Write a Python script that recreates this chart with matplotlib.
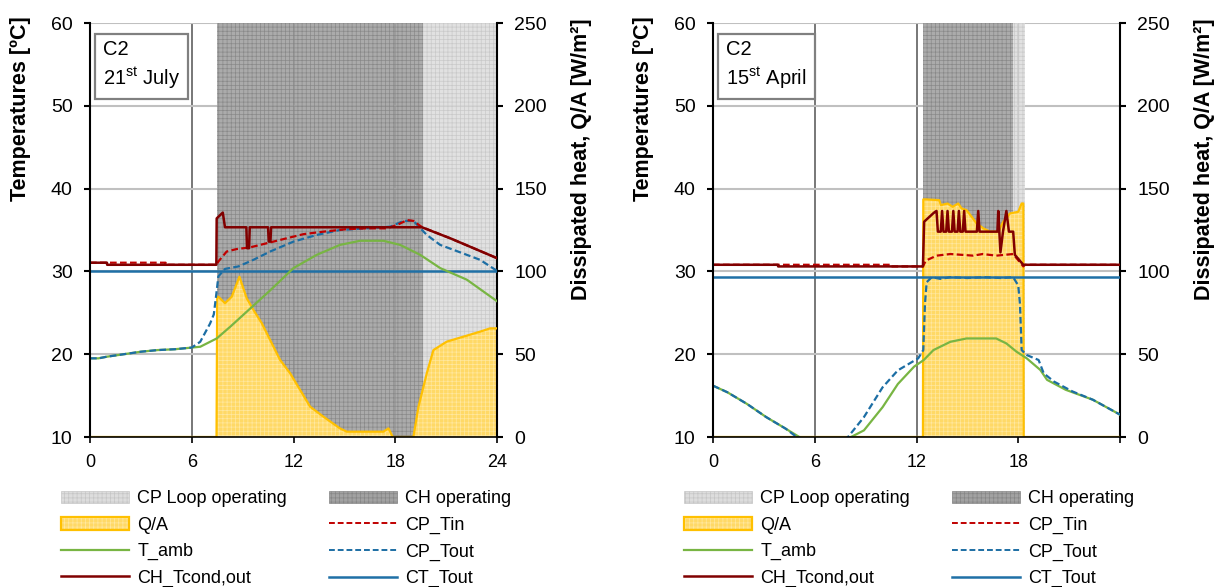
import matplotlib
matplotlib.use('Agg')
import matplotlib.pyplot as plt
from matplotlib.patches import Patch
from matplotlib.lines import Line2D

plt.rcParams['font.family'] = ['Liberation Sans', 'DejaVu Sans']
plt.rcParams['mathtext.fontset'] = 'custom'
plt.rcParams['mathtext.rm'] = 'Liberation Sans'
plt.rcParams['hatch.linewidth'] = 0.5

# ---------------- data: 21st July (left) ----------------
ch_spans_jul = [(7.47, 19.62)]
cp_spans_jul = [(19.62, 24.0)]

qa_h_jul = [0, 7.46, 7.5, 7.57, 7.96, 8.36, 8.81, 9.24, 9.64, 10.13, 10.62, 11.21, 11.8, 12.39,
            12.98, 13.76, 14.74, 15.14, 17.3, 17.6, 17.85, 19.07, 19.37, 19.86, 20.25, 21.04,
            22.02, 23.0, 23.59, 24.0]
qa_jul = [0, 0, 84.7, 84.7, 80.8, 84.7, 96.8, 83.8, 76.7, 68.7, 58.6, 46.5, 38.5, 28.4,
          18.3, 12.3, 5.2, 3.2, 3.2, 5.2, 0, 0, 18.3, 38.5, 52.5, 57.6,
          60.6, 63.6, 65.6, 65.6]

tamb_h_jul = [0, 0.5, 1, 2, 3, 4, 5, 6, 6.5, 7.47, 8.26, 9.44, 10.62, 12.0, 13.37, 14.74,
              15.93, 17.3, 18.29, 19.47, 20.65, 22.22, 24.0]
tamb_jul = [19.5, 19.5, 19.7, 20.0, 20.3, 20.5, 20.6, 20.8, 20.9, 21.9, 23.3, 25.5, 27.7, 30.4,
            32.0, 33.2, 33.7, 33.7, 33.2, 32.0, 30.4, 29.0, 26.4]

cptout_h_jul = [0, 0.5, 1, 2, 3, 4, 5, 6, 6.5, 7.08, 7.3, 7.43, 7.57, 7.96, 8.75, 9.64, 10.62,
                12.0, 13.37, 14.74, 16.32, 17.7, 18.49, 19.07, 19.86, 20.65, 21.83, 23.0, 23.9, 24.0]
cptout_jul = [19.5, 19.5, 19.7, 20.0, 20.3, 20.5, 20.6, 20.8, 21.5, 23.7, 24.8, 26.95, 29.4, 30.3,
              30.6, 31.4, 32.4, 33.6, 34.4, 35.0, 35.2, 35.4, 36.1, 36.1, 34.4, 33.2, 32.3, 31.4,
              30.2, 30.0]

cptin_h_jul = [0, 4.46, 4.47, 7.45, 7.57, 8.06, 8.65, 9.44, 10.62, 11.6, 12.59, 13.76, 15.14,
               16.32, 17.5, 18.1, 18.7, 19.07, 19.47, 19.6, 21.24, 24.0]
cptin_jul = [31.05, 31.05, 30.8, 30.8, 31.2, 32.4, 32.7, 32.9, 33.5, 34.0, 34.5, 34.8, 35.1,
             35.2, 35.2, 35.6, 36.2, 36.1, 35.5, 35.33, 34.0, 31.6]

chtc_h_jul = [0, 1.0, 1.01, 7.45, 7.47, 7.83, 7.96, 9.22, 9.26, 9.38, 9.42, 10.5, 10.54, 10.64,
              10.68, 19.57, 21.24, 24.0]
chtc_jul = [31.05, 31.05, 30.8, 30.8, 36.4, 37.1, 35.33, 35.33, 32.8, 32.8, 35.33, 35.33, 33.6,
            33.6, 35.33, 35.33, 34.0, 31.6]

ct_h_jul = [0, 24]
ct_jul = [30.0, 30.0]

# ---------------- data: 15st April (right) ----------------
ch_spans_apr = [(12.4, 17.7)]
cp_spans_apr = [(17.7, 18.4)]

qa_h_apr = [0, 12.38, 12.4, 12.55, 13.34, 13.44, 13.83, 14.13, 14.46, 14.66, 14.95, 15.25, 15.54,
            15.94, 16.33, 16.82, 17.12, 17.51, 18.0, 18.2, 18.3, 18.32, 24]
qa_apr = [0, 0, 143.5, 143.5, 143, 140, 141, 139, 141, 138, 137, 133, 129,
          126, 124, 124, 130, 135, 136, 141, 141, 0, 0]

tamb_h_apr = [0, 0.85, 2.0, 3.14, 4.29, 5.09, 6.0, 7.0, 8.14, 8.9, 10.0, 10.9, 11.86, 12.43, 13.0,
              14.0, 14.95, 15.5, 16.7, 17.3, 17.9, 18.5, 19.3, 19.7, 20.8, 22.4, 24.0]
tamb_apr = [16.2, 15.4, 14.0, 12.4, 11.0, 10.0, 8.8, 8.8, 10.0, 10.8, 13.6, 16.4, 18.5, 19.3, 20.5,
            21.5, 21.9, 21.9, 21.9, 21.3, 20.3, 19.5, 18.1, 16.9, 15.7, 14.5, 12.7]

cptout_h_apr = [0, 0.85, 2.0, 3.14, 4.29, 4.93, 6.0, 7.0, 7.96, 8.9, 10.0, 10.9, 12.1, 12.4, 12.5,
                12.6, 12.9, 13.4, 14.0, 15.0, 16.0, 17.0, 17.7, 18.0, 18.1, 18.2, 18.5, 19.2, 19.5,
                20.1, 21.2, 22.4, 24.0]
cptout_apr = [16.2, 15.4, 14.0, 12.4, 11.0, 10.0, 8.8, 8.8, 10.0, 12.4, 16.0, 18.05, 19.5, 20.5,
              26.1, 28.7, 29.3, 29.1, 29.3, 29.2, 29.3, 29.2, 29.3, 28.3, 26.1, 20.5, 19.9, 19.3,
              17.7, 16.7, 15.5, 14.5, 12.7]

cptin_h_apr = [0, 10.5, 10.51, 12.38, 12.55, 13.18, 14.0, 15.35, 15.9, 16.7, 17.7, 18.1, 18.3,
               18.4, 24.0]
cptin_apr = [30.8, 30.8, 30.6, 30.6, 31.3, 31.9, 32.1, 31.9, 32.1, 31.9, 32.1, 31.1, 30.6,
             30.8, 30.8]

chtc_h_apr = [0, 3.83, 3.84, 12.38, 12.45, 12.98, 13.1, 13.18, 13.26, 13.43, 13.51, 13.59, 13.75,
              13.83, 13.91, 14.09, 14.17, 14.25, 14.42, 14.5, 14.58, 14.73, 14.81, 14.89, 15.56,
              15.64, 15.72, 16.77, 16.82, 16.95, 17.1, 17.3, 17.45, 17.7, 17.8, 18.3, 24.0]
chtc_apr = [30.8, 30.8, 30.6, 30.6, 36.0, 37.0, 37.2, 37.3, 34.8, 34.8, 37.3, 34.8, 34.8,
            37.3, 34.8, 34.8, 37.3, 34.8, 34.8, 37.3, 34.8, 34.8, 37.3, 34.8, 34.8,
            37.3, 34.8, 34.8, 37.3, 32.3, 34.8, 37.3, 34.8, 34.8, 32.0, 30.8, 30.8]

ct_h_apr = [0, 24]
ct_apr = [29.3, 29.3]

# ---------------- styles ----------------
light_face, light_hatch = '#dddddd', '#c6c6c6'
dark_face, dark_hatch = '#a2a2a2', '#868686'
yel_face, yel_hatch, yel_edge = '#ffd966', '#ffe8a0', '#ffc000'
c_tin, c_tamb, c_tout, c_chtc, c_ct = '#c00000', '#78b543', '#1c6ea4', '#800000', '#1f70a6'
dash = (3, 1.5)

fig = plt.figure(figsize=(12.21, 5.87), dpi=100)


def draw_panel(rect, box_text, ch_spans, cp_spans, qa_h, qa, series, xlabels):
    ax1 = fig.add_axes(rect)
    ax2 = ax1.twinx()
    ax1.set_zorder(2)
    ax2.set_zorder(1)
    ax1.patch.set_visible(False)

    # background grid on the rear axes
    ax2.xaxis.set_visible(True)
    ax2.set_axisbelow(True)
    ax2.grid(axis='y', color='#c0c0c0', lw=1.5)
    ax2.grid(axis='x', color='#606060', lw=1.2)
    ax2.tick_params(axis='x', bottom=False, top=False, labelbottom=False)

    for a, b in cp_spans:
        ax2.axvspan(a, b, facecolor=light_face, edgecolor=light_hatch, hatch='++++',
                    lw=0, alpha=0.88, zorder=1)
    for a, b in ch_spans:
        ax2.axvspan(a, b, facecolor=dark_face, edgecolor=dark_hatch, hatch='++++',
                    lw=0, alpha=0.9, zorder=1)
    ax2.fill_between(qa_h, 0, qa, facecolor=yel_face, edgecolor=yel_hatch, hatch='++++',
                     lw=0, zorder=2)
    ax2.plot(qa_h, qa, color=yel_edge, lw=1.6, zorder=3)

    for h, v, col, ls, lw in series:
        if ls == 'dash':
            ax1.plot(h, v, color=col, lw=lw, dashes=dash)
        else:
            ax1.plot(h, v, color=col, lw=lw)

    ax1.set_xlim(0, 24)
    ax1.set_ylim(10, 60)
    ax2.set_ylim(0, 250)
    ax1.set_xticks([0, 6, 12, 18, 24])
    ax1.set_xticklabels(xlabels)
    ax1.set_yticks(range(10, 61, 10))
    ax2.set_yticks(range(0, 251, 50))

    for s in ['top', 'right']:
        ax1.spines[s].set_visible(False)
    for s in ['top', 'left', 'bottom']:
        ax2.spines[s].set_visible(False)
    ax1.spines['left'].set_linewidth(1.5)
    ax1.spines['bottom'].set_linewidth(1.2)
    ax2.spines['right'].set_linewidth(1.5)

    ax1.tick_params(axis='y', direction='out', length=4.5, width=1.5, labelsize=14, pad=8)
    ax1.tick_params(axis='x', direction='out', length=4, width=1.2, labelsize=13, pad=8)
    ax2.tick_params(axis='y', direction='out', length=4.5, width=1.5, labelsize=14, pad=8)

    ax1.set_ylabel('Temperatures [ºC]', fontsize=15.5, fontweight='bold')
    ax1.yaxis.set_label_coords(-0.145, 0.7935)
    ax2.set_ylabel('Dissipated heat, Q/A [W/m²]', fontsize=15.5, fontweight='bold')
    ax2.yaxis.set_label_coords(1.181, 0.6715)

    ax1.text(0.032, 0.958, box_text, transform=ax1.transAxes, fontsize=14.5, ha='left', va='top',
             linespacing=1.3, zorder=10,
             bbox=dict(boxstyle='square,pad=0.4', facecolor='white', edgecolor='#808080', lw=1.6))

    handles = [
        Patch(facecolor=light_face, edgecolor=light_hatch, hatch='++++', lw=0.5),
        (Patch(facecolor=yel_face, edgecolor=yel_hatch, hatch='++++', lw=0),
         Patch(facecolor='none', edgecolor=yel_edge, lw=1.6)),
        Line2D([], [], color=c_tamb, lw=1.6),
        Line2D([], [], color=c_chtc, lw=1.8),
        Patch(facecolor=dark_face, edgecolor=dark_hatch, hatch='++++', lw=0.5),
        Line2D([], [], color=c_tin, lw=1.4, dashes=dash),
        Line2D([], [], color=c_tout, lw=1.4, dashes=dash),
        Line2D([], [], color=c_ct, lw=1.8),
    ]
    labels = ['CP Loop operating', 'Q/A', 'T_amb', 'CH_Tcond,out',
              'CH operating', 'CP_Tin', 'CP_Tout', 'CT_Tout']
    ax1.legend(handles, labels, ncol=2, loc='upper center', bbox_to_anchor=(0.482, -0.129),
               frameon=False, fontsize=13, handlelength=3.8, handletextpad=0.45,
               columnspacing=2.3, labelspacing=0.52, borderpad=0, borderaxespad=0)
    return ax1, ax2


series_jul = [
    (ct_h_jul, ct_jul, c_ct, 'solid', 1.8),
    (tamb_h_jul, tamb_jul, c_tamb, 'solid', 1.6),
    (cptout_h_jul, cptout_jul, c_tout, 'dash', 1.6),
    (cptin_h_jul, cptin_jul, c_tin, 'dash', 1.6),
    (chtc_h_jul, chtc_jul, c_chtc, 'solid', 1.8),
]
series_apr = [
    (ct_h_apr, ct_apr, c_ct, 'solid', 1.8),
    (tamb_h_apr, tamb_apr, c_tamb, 'solid', 1.6),
    (cptout_h_apr, cptout_apr, c_tout, 'dash', 1.6),
    (cptin_h_apr, cptin_apr, c_tin, 'dash', 1.6),
    (chtc_h_apr, chtc_apr, c_chtc, 'solid', 1.8),
]

draw_panel([90 / 1221, 150 / 587, 407 / 1221, 414 / 587], 'C2\n21$^{\\mathrm{st}}$ July',
           ch_spans_jul, cp_spans_jul, qa_h_jul, qa_jul, series_jul,
           ['0', '6', '12', '18', '24'])
draw_panel([713 / 1221, 150 / 587, 407 / 1221, 414 / 587], 'C2\n15$^{\\mathrm{st}}$ April',
           ch_spans_apr, cp_spans_apr, qa_h_apr, qa_apr, series_apr,
           ['0', '6', '12', '18', ''])

fig.savefig('out.png', dpi=100)
